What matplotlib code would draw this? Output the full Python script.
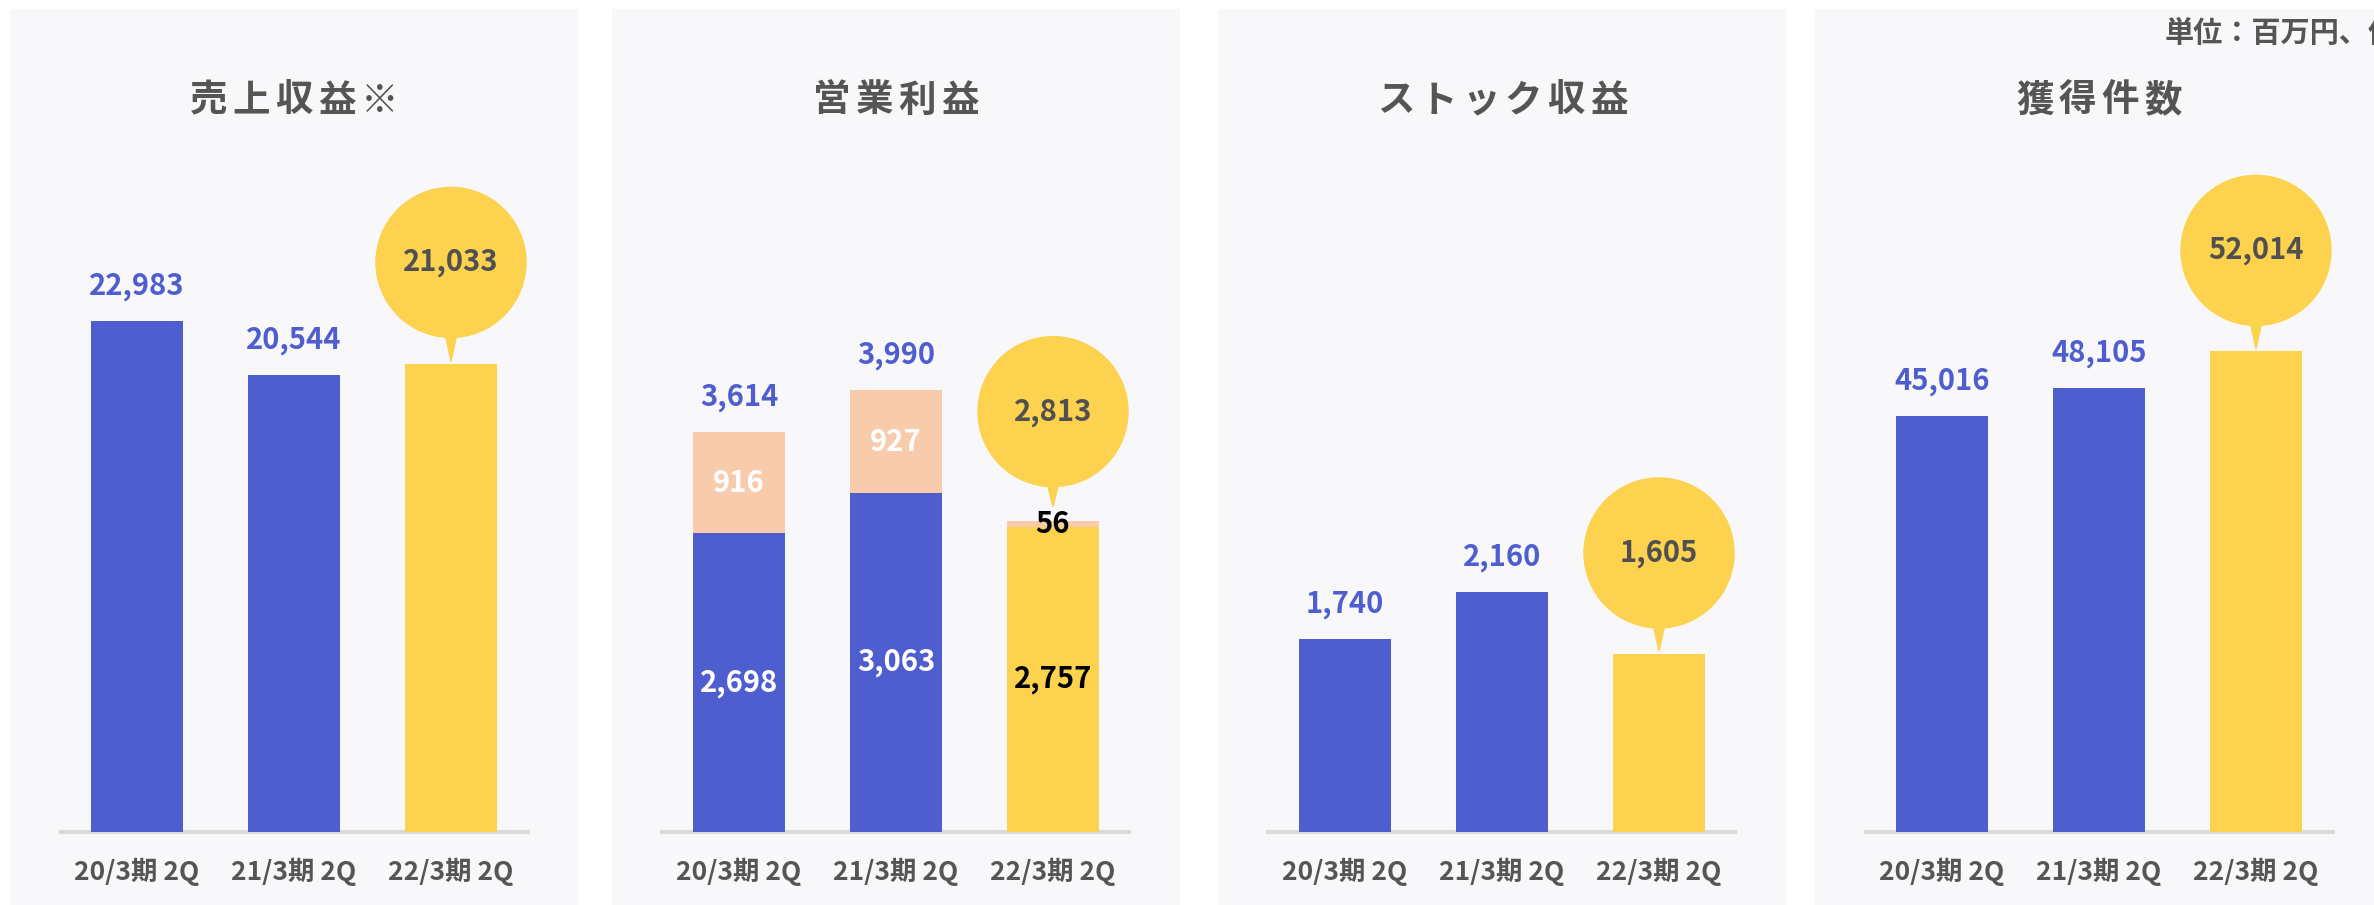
import matplotlib
matplotlib.use("Agg")
import matplotlib.pyplot as plt
from matplotlib import transforms
from matplotlib.patches import Circle, Polygon

plt.rcParams['font.family'] = ['Noto Sans CJK JP', 'DejaVu Sans']

# data
periods = ['20/3期 2Q', '21/3期 2Q', '22/3期 2Q']
titles = ['売上収益※', '営業利益', 'ストック収益', '獲得件数']
sales = [22983, 20544, 21033]
op_main = [2698, 3063, 2757]
op_extra = [916, 927, 56]
stock = [1740, 2160, 1605]
acquired = [45016, 48105, 52014]
unit_note = '単位：百万円、件'

BLUE = '#4F5ECF'
YELLOW = '#FCD24F'
PEACH = '#F8CBAD'
BG = '#F8F8FA'
GREY = '#555555'

W, H, DPI = 2374, 905, 100
panel_left = [10, 612, 1218, 1815]
PANEL_W = 568
PANEL_TOP = 9
BASE = 832          # baseline, px from top
X0, STEP = 127, 157  # first bar centre inside a panel, spacing (px)
ymax = [37020, 7435, 7420, 89070]
rise = [102, 109, 101, 101]   # bubble centre above bar top (px)
tip = [3, 14, 3, 3]           # gap between tail tip and bar top (px)

fig = plt.figure(figsize=(W / DPI, H / DPI), dpi=DPI)
fig.patch.set_facecolor('white')


def make_axes(i):
    ax = fig.add_axes([panel_left[i] / W, 0, PANEL_W / W, (H - PANEL_TOP) / H])
    ax.set_facecolor(BG)
    s = (BASE - PANEL_TOP) / ymax[i]
    ax.set_ylim(-(H - BASE) / s, ymax[i])
    ax.set_xlim(-X0 / STEP, (PANEL_W - X0) / STEP)
    for sp in ax.spines.values():
        sp.set_visible(False)
    ax.set_yticks([])
    ax.set_xticks(range(3), periods)
    ax.tick_params(axis='x', length=0, pad=-34, labelsize=19, labelcolor=GREY)
    for t in ax.get_xticklabels():
        t.set_fontweight('bold')
    ax.hlines(0, -0.5, 2.5, color='#DADADA', lw=3, zorder=1)
    # title with letter spacing
    cx = panel_left[i] + PANEL_W / 2
    n = len(titles[i])
    for j, ch in enumerate(titles[i]):
        fig.text((cx + (j - (n - 1) / 2) * 42.6) / W, 1 - 100 / H, ch,
                 ha='center', va='center', fontsize=27, fontweight='bold',
                 color=GREY)
    return ax


def top_label(ax, x, y, text, color=BLUE):
    ax.annotate(text, (x, y), xytext=(0, 35), textcoords='offset pixels',
                ha='center', va='center', fontsize=21, fontweight='bold',
                color=color, zorder=5)


def bubble(ax, i, x, y, text):
    trans = fig.dpi_scale_trans + transforms.ScaledTranslation(x, y, ax.transData)
    c = rise[i] / DPI
    r = 0.75
    ax.add_patch(Circle((0, c), r, transform=trans, color=YELLOW, zorder=4,
                        clip_on=False))
    ax.add_patch(Polygon([(-0.06, c - r + 0.04), (0.06, c - r + 0.04),
                          (0, tip[i] / DPI)], transform=trans, color=YELLOW,
                         zorder=4, clip_on=False))
    ax.text(0, c, text, transform=trans, ha='center', va='center',
            fontsize=21, fontweight='bold', color='#505050', zorder=5)


colors = [BLUE, BLUE, YELLOW]
xs = range(3)

for i, vals in [(0, sales), (2, stock), (3, acquired)]:
    ax = make_axes(i)
    ax.bar(xs, vals, width=0.58, color=colors, zorder=2)
    for x, v in zip(xs[:2], vals[:2]):
        top_label(ax, x, v, f'{v:,}')
    bubble(ax, i, 2, vals[2], f'{vals[2]:,}')

# operating profit, stacked
ax = make_axes(1)
totals = [a + b for a, b in zip(op_main, op_extra)]
low = ax.bar(xs, op_main, width=0.58, color=colors, zorder=2)
high = ax.bar(xs, op_extra, bottom=op_main, width=0.58, color=PEACH, zorder=2)
for cont, vals in [(low, op_main), (high, op_extra)]:
    texts = ax.bar_label(cont, labels=[f'{v:,}' for v in vals],
                         label_type='center', fontsize=21, fontweight='bold',
                         color='white', zorder=5)
    texts[2].set_color('black')
for x, v in zip(xs[:2], totals[:2]):
    top_label(ax, x, v, f'{v:,}')
bubble(ax, 1, 2, totals[2], f'{totals[2]:,}')

fig.text(2165 / W, 1 - 33 / H, unit_note, ha='left', va='center',
         fontsize=21, fontweight='bold', color=GREY)

fig.savefig('out.png', dpi=DPI, facecolor='white')
